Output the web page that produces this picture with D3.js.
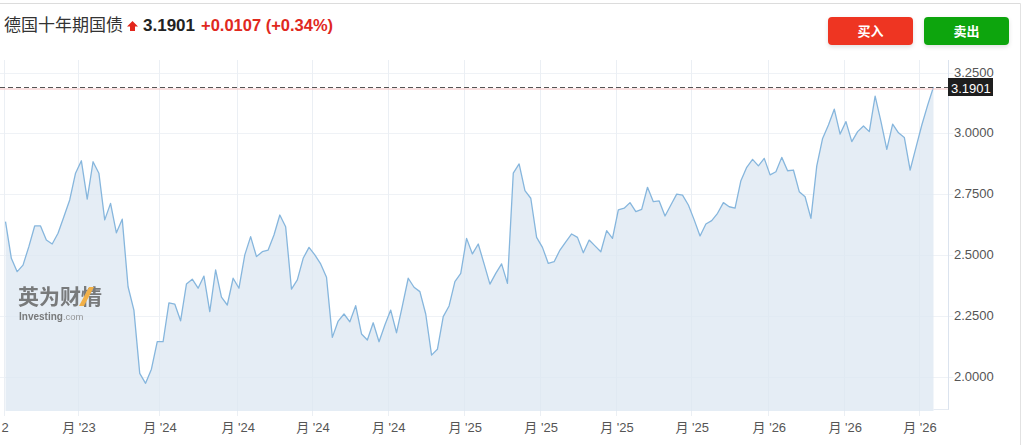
<!DOCTYPE html>
<html>
<head>
<meta charset="utf-8">
<script src="https://cdn.jsdelivr.net/npm/d3@7"></script>
<style>
  body { margin: 0; background: #fff; }
  text { font-family: "Liberation Sans", Arial, "Noto Sans CJK SC", sans-serif; }
</style>
</head>
<body>
<div id="chart"></div>
<script>
// weekly yield values
var yields = [
  2.637, 2.486, 2.431, 2.458, 2.534, 2.619, 2.619, 2.561, 2.545, 2.589,
  2.657, 2.726, 2.836, 2.887, 2.729, 2.883, 2.836, 2.644, 2.712, 2.591,
  2.647, 2.369, 2.273, 2.013, 1.972, 2.030, 2.143, 2.143, 2.303, 2.298,
  2.229, 2.380, 2.400, 2.363, 2.413, 2.267, 2.438, 2.326, 2.294, 2.404,
  2.363, 2.500, 2.575, 2.493, 2.513, 2.520, 2.582, 2.664, 2.616, 2.359,
  2.397, 2.486, 2.531, 2.500, 2.463, 2.408, 2.161, 2.228,
  2.257, 2.225, 2.291, 2.175, 2.150, 2.221, 2.143, 2.212, 2.273, 2.180,
  2.290, 2.404, 2.367, 2.349, 2.257, 2.088, 2.112, 2.246, 2.290, 2.390,
  2.424, 2.568, 2.504, 2.545, 2.463, 2.380, 2.424, 2.463, 2.383, 2.836,
  2.874, 2.764, 2.733, 2.572, 2.531, 2.465, 2.472, 2.520, 2.554, 2.586,
  2.572, 2.509, 2.561, 2.537, 2.513, 2.600, 2.568, 2.685, 2.692, 2.715,
  2.678, 2.687, 2.778, 2.719, 2.722, 2.660, 2.705,
  2.750, 2.746, 2.705, 2.644, 2.578, 2.627, 2.641, 2.671, 2.715, 2.698,
  2.692, 2.805, 2.860, 2.893, 2.866, 2.897, 2.829, 2.842, 2.901, 2.846,
  2.849, 2.760, 2.739, 2.650, 2.866, 2.979, 3.034, 3.099, 2.997, 3.048,
  2.966, 3.007, 3.030, 3.007, 3.153, 3.048, 2.934, 3.038, 3.002, 2.983,
  2.849, 2.942, 3.034, 3.116, 3.1901
];

// x ticks (position in weeks) and their labels
var xTickPos = [-0.26, 12.42, 26.3, 39.7, 52.5, 65.5, 78.6, 91.6, 104.6, 117.5, 130.7, 143.7, 156.5];
var xTickLabels = ["2", "月 '23", "月 '24", "月 '24", "月 '24", "月 '24", "月 '25",
                   "月 '25", "月 '25", "月 '25", "月 '26", "月 '26", "月 '26"];

var yTicks = [2.0, 2.25, 2.5, 2.75, 3.0, 3.25];
var lastValue = 3.1901;

var W = 1024, H = 445;
var plot = {left: 0, right: 948.5, top: 60, bottom: 411};

var svg = d3.select("#chart")
  .append("svg")
    .attr("width", W)
    .attr("height", H);

// page frame
svg.append("line")
  .attr("x1", 0).attr("x2", 1020.5).attr("y1", 3.5).attr("y2", 3.5)
  .attr("stroke", "#dcdcdc");
svg.append("line")
  .attr("x1", 1020.5).attr("x2", 1020.5).attr("y1", 3.5).attr("y2", H)
  .attr("stroke", "#e2e2e2");

// header
svg.append("text")
  .attr("x", 4).attr("y", 31)
  .attr("font-size", 17)
  .attr("fill", "#333")
  .text("德国十年期国债");
svg.append("path")
  .attr("d", "M132.5,21 L138,26.5 L135,26.5 L135,31 L130,31 L130,26.5 L127,26.5 Z")
  .attr("fill", "#e3261c");
svg.append("text")
  .attr("x", 143).attr("y", 31)
  .attr("font-size", 17).attr("font-weight", "bold")
  .attr("fill", "#222")
  .text("3.1901");
svg.append("text")
  .attr("x", 201).attr("y", 30.5)
  .attr("font-size", 16.5).attr("font-weight", "bold")
  .attr("fill", "#e0291e")
  .text("+0.0107 (+0.34%)");

// buttons
var defs = svg.append("defs");
var f = defs.append("filter").attr("id", "shadow")
  .attr("x", "-20%").attr("y", "-30%").attr("width", "140%").attr("height", "180%");
f.append("feDropShadow")
  .attr("dx", 0).attr("dy", 2).attr("stdDeviation", 2)
  .attr("flood-color", "#000").attr("flood-opacity", 0.12);

var buttons = [
  {x: 828, label: "买入", color: "#ee3424"},
  {x: 924, label: "卖出", color: "#0ea50b"}
];
buttons.forEach(function(b) {
  svg.append("rect")
    .attr("x", b.x).attr("y", 17).attr("width", 85).attr("height", 28)
    .attr("rx", 4)
    .attr("fill", b.color)
    .attr("filter", "url(#shadow)");
  svg.append("text")
    .attr("x", b.x + 42.5).attr("y", 36)
    .attr("text-anchor", "middle")
    .attr("font-size", 13).attr("font-weight", "bold")
    .attr("fill", "#fff")
    .text(b.label);
});

// scales
var x = d3.scaleLinear()
  .domain([0, yields.length - 1])
  .range([5.5, 933.5]);

var y = d3.scaleLinear()
  .domain([2.0, 3.25])
  .range([376.5, 72.5]);

// horizontal grid + right axis ticks
svg.append("g")
  .selectAll("line")
  .data(yTicks)
  .enter()
  .append("line")
    .attr("x1", plot.left).attr("x2", plot.right + 5)
    .attr("y1", function(d) { return Math.round(y(d)) + 0.5; })
    .attr("y2", function(d) { return Math.round(y(d)) + 0.5; })
    .attr("stroke", "#eff2f6");

// vertical grid + bottom ticks
svg.append("g")
  .selectAll("line")
  .data(xTickPos)
  .enter()
  .append("line")
    .attr("x1", function(d) { return Math.round(x(d)) + 0.5; })
    .attr("x2", function(d) { return Math.round(x(d)) + 0.5; })
    .attr("y1", plot.top)
    .attr("y2", plot.bottom + 5)
    .attr("stroke", "#ebeff4");

// area + line
var area = d3.area()
  .x(function(d, i) { return x(i); })
  .y0(plot.bottom)
  .y1(function(d) { return y(d); });

var line = d3.line()
  .x(function(d, i) { return x(i); })
  .y(function(d) { return y(d); });

svg.append("path")
  .datum(yields)
  .attr("d", area)
  .attr("fill", "#dce7f2")
  .attr("fill-opacity", 0.75);

svg.append("path")
  .datum(yields)
  .attr("d", line)
  .attr("fill", "none")
  .attr("stroke", "#86b6dd")
  .attr("stroke-width", 1.3)
  .attr("stroke-linejoin", "round");

// watermark
var wm = svg.append("g").attr("opacity", 0.85);
wm.append("text")
  .attr("x", 18).attr("y", 304)
  .attr("font-size", 21).attr("font-weight", "bold")
  .attr("fill", "#666")
  .text("英为财情");
wm.append("path")
  .attr("d", "M79,306 L89,287 L94,287 L84,306 Z")
  .attr("fill", "#f4a62a");
var wt = wm.append("text")
  .attr("x", 19).attr("y", 320)
  .attr("font-size", 10)
  .attr("fill", "#666");
wt.append("tspan").attr("font-weight", "bold").text("Investing");
wt.append("tspan").attr("font-size", 9.5).attr("fill", "#888").text(".com");

// plot frame on the right
svg.append("line")
  .attr("x1", plot.right).attr("x2", plot.right)
  .attr("y1", plot.top).attr("y2", plot.bottom - 1)
  .attr("stroke", "#dbe3ee");
svg.append("line")
  .attr("x1", x(yields.length - 1)).attr("x2", plot.right)
  .attr("y1", plot.bottom - 1.5).attr("y2", plot.bottom - 1.5)
  .attr("stroke", "#e6ebf2");

// current value line
var yc = Math.round(y(lastValue)) + 0.5;
svg.append("line")
  .attr("x1", 0).attr("x2", plot.right)
  .attr("y1", yc + 1.5).attr("y2", yc + 1.5)
  .attr("stroke", "#f6c2c2");
svg.append("line")
  .attr("x1", 0).attr("x2", plot.right)
  .attr("y1", yc).attr("y2", yc)
  .attr("stroke", "#555")
  .attr("stroke-dasharray", "5,3");

// y tick labels
svg.append("g")
  .selectAll("text")
  .data(yTicks)
  .enter()
  .append("text")
    .attr("x", 954)
    .attr("y", function(d) { return y(d) + 4; })
    .attr("font-size", 13)
    .attr("fill", "#555")
    .text(function(d) { return d3.format(".4f")(d); });

// current value tag
svg.append("rect")
  .attr("x", 948).attr("y", yc - 9.5).attr("width", 45).attr("height", 18)
  .attr("fill", "#1e1e1e");
svg.append("text")
  .attr("x", 951).attr("y", yc + 5)
  .attr("font-size", 13)
  .attr("fill", "#fff")
  .text(d3.format(".4f")(lastValue));

// x tick labels
svg.append("g")
  .selectAll("text")
  .data(xTickPos)
  .enter()
  .append("text")
    .attr("x", function(d, i) { return i === 0 ? 5 : x(d) + 1; })
    .attr("y", 432)
    .attr("text-anchor", "middle")
    .attr("font-size", 13)
    .attr("fill", "#555")
    .text(function(d, i) { return xTickLabels[i]; });
</script>
</body>
</html>
